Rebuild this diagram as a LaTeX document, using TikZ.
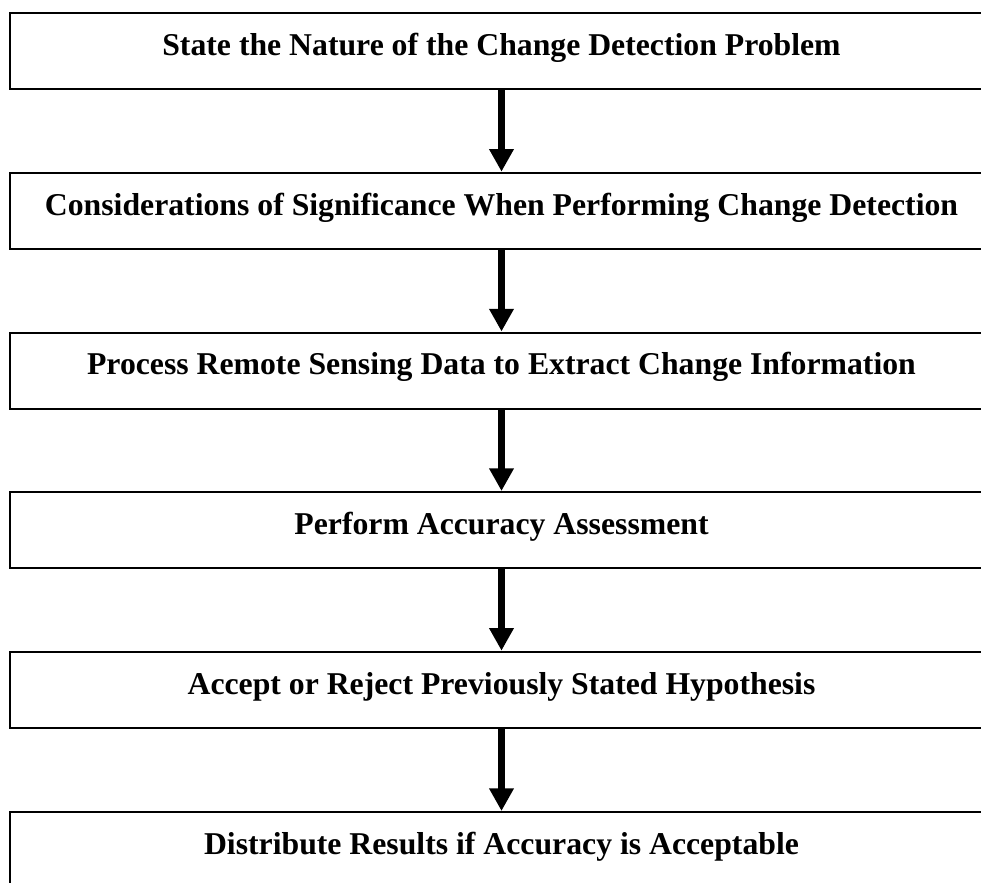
\documentclass[tikz,border=0pt]{standalone}
\usepackage{fontspec}
\setmainfont{Liberation Serif}
\usepackage{tikz}
\usetikzlibrary{positioning, arrows.meta}

\begin{document}
\begin{tikzpicture}[x=0.75pt, y=-0.75pt,
  stepbox/.style={draw, line width=1.5pt, minimum width=737pt, minimum height=57pt, text height=17pt, text depth=10.5pt, font=\fontsize{23.8}{28}\selectfont\bfseries},
  flow/.style={line width=5.25pt, -{Triangle[length=17pt, width=17.5pt]}}]
\clip (0,0) rectangle (981,882);
\node[stepbox] (nature) at (501.5,51) {State the Nature of the Change Detection Problem};
\node[stepbox] (consider) at (501.5,210.7) {Considerations of Significance When Performing Change Detection};
\node[stepbox] (process) at (501.5,370.5) {Process Remote Sensing Data to Extract Change Information};
\node[stepbox] (accuracy) at (501.5,530) {Perform Accuracy Assessment};
\node[stepbox] (hypothesis) at (501.5,689.7) {Accept or Reject Previously Stated Hypothesis};
\node[stepbox] (distribute) at (501.5,850) {Distribute Results if Accuracy is Acceptable};
\draw[flow] (nature) -- (consider);
\draw[flow] (consider) -- (process);
\draw[flow] (process) -- (accuracy);
\draw[flow] (accuracy) -- (hypothesis);
\draw[flow] (hypothesis) -- (distribute);
\end{tikzpicture}
\end{document}
